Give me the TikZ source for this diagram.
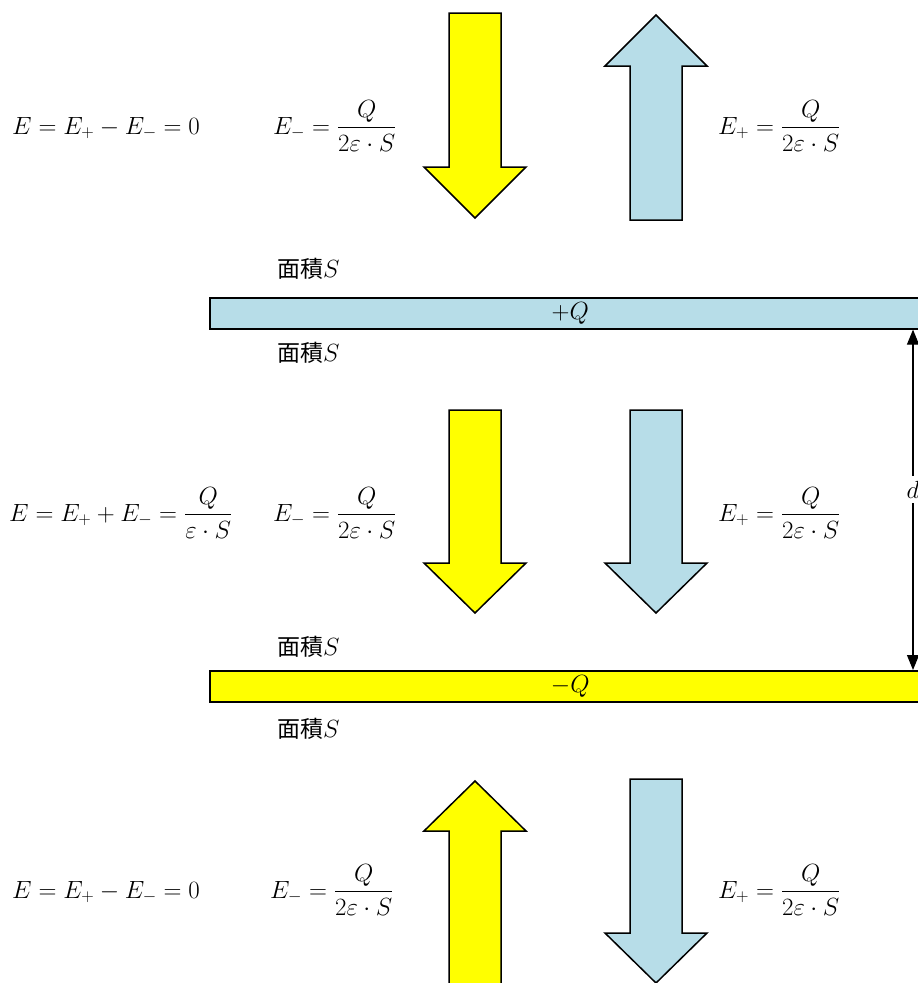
\documentclass[tikz,border=0pt]{standalone}
\usepackage{amsmath}
\usepackage{fontspec}
\newfontfamily\cjk{Noto Sans CJK TC}
\usetikzlibrary{arrows.meta}
\definecolor{plateblue}{HTML}{B7DDE8}
\definecolor{plateyellow}{HTML}{FFFF00}
\newcommand{\area}{{\cjk 面積}$S$}
\begin{document}
\begin{tikzpicture}[x=1pt, y=-1pt]
    % Define styles
    \tikzset{
        formula/.style={anchor=base west, inner sep=0pt, font=\fontsize{24}{28}\selectfont},
        arealabel/.style={anchor=base west, inner sep=0pt, font=\fontsize{23}{28}\selectfont},
        plate/.style={draw, line width=1.6pt, anchor=north west, minimum width=721pt, minimum height=31pt, inner sep=0pt, font=\fontsize{24}{28}\selectfont},
        fieldarrow/.style={draw, line width=1.5pt, line join=miter},
        dimarrow/.style={line width=1.2pt, -{Triangle[width=12pt,length=15pt]}}
    }
    \useasboundingbox (0,0) rectangle (918,983);

    % Field arrows: centre x / base y / head base y / tip y / colour
    \foreach \xc/\yb/\yh/\yt/\col in {475/13/167/218/plateyellow, 656/220/66/15/plateblue,
                                      475/410/563/613/plateyellow, 656/410/563/613/plateblue,
                                      475/995/831/781/plateyellow, 656/779/933/983/plateblue}
        \draw[fieldarrow, fill=\col] (\xc-26,\yb) -- (\xc+26,\yb) -- (\xc+26,\yh) -- (\xc+51,\yh)
            -- (\xc,\yt) -- (\xc-51,\yh) -- (\xc-26,\yh) -- cycle;

    % Plates
    \node[plate, fill=plateblue] (pplate) at (209,297) {$+Q$};
    \node[plate, fill=plateyellow] (nplate) at (209,670) {$-Q$};

    % Area labels
    \node[arealabel] (areaa) at (277,277) {\area};
    \node[arealabel] (areab) at (277,361) {\area};
    \node[arealabel] (areac) at (277,655) {\area};
    \node[arealabel] (aread) at (277,737) {\area};

    % Top region
    \node[formula] (sumtop) at (12,134) {$E=E_{+}-E_{-}=0$};
    \node[formula] (emtop) at (273,134) {$E_{-}=\dfrac{Q}{2\varepsilon\cdot S}$};
    \node[formula] (eptop) at (718,134) {$E_{+}=\dfrac{Q}{2\varepsilon\cdot S}$};

    % Between the plates
    \node[formula] (summid) at (9,521) {$E=E_{+}+E_{-}=\dfrac{Q}{\varepsilon\cdot S}$};
    \node[formula] (emmid) at (273,521) {$E_{-}=\dfrac{Q}{2\varepsilon\cdot S}$};
    \node[formula] (epmid) at (718,521) {$E_{+}=\dfrac{Q}{2\varepsilon\cdot S}$};

    % Bottom region
    \node[formula] (sumbot) at (12,898) {$E=E_{+}-E_{-}=0$};
    \node[formula] (embot) at (270,898) {$E_{-}=\dfrac{Q}{2\varepsilon\cdot S}$};
    \node[formula] (epbot) at (718,898) {$E_{+}=\dfrac{Q}{2\varepsilon\cdot S}$};

    % Plate distance
    \node[font=\fontsize{24}{28}\selectfont, inner xsep=0pt, inner ysep=5pt, anchor=base] (dlabel) at (913,498) {$d$};
    \draw[dimarrow] (dlabel.north) -- (dlabel.north |- pplate.south);
    \draw[dimarrow] (dlabel.south) -- (dlabel.south |- nplate.north);
\end{tikzpicture}
\end{document}
